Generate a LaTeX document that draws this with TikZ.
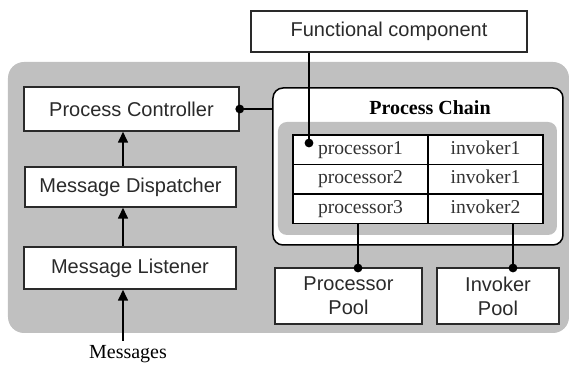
\documentclass[tikz,border=0pt]{standalone}
\usepackage{fontspec}
\setmainfont{Liberation Serif}
\setsansfont{Liberation Sans}
\usetikzlibrary{arrows.meta}
\definecolor{panelgray}{HTML}{C0C0C0}
\definecolor{inkdark}{HTML}{2A2A2A}
\begin{document}
\begin{tikzpicture}[x=0.5pt,y=-0.5pt,
  box/.style={draw=inkdark,line width=0.75pt,fill=white,inner sep=0pt,
    font=\sffamily\fontsize{10}{12}\selectfont,text=inkdark,align=center},
  cell/.style={draw=black,line width=0.7pt,fill=white,inner sep=0pt,
    minimum height=14.75pt,text height=6.6pt,text depth=2pt,
    font=\fontsize{9.8}{12}\selectfont,text=black!80},
  wire/.style={draw=black,line width=0.6pt},
  upflow/.style={draw=black,line width=0.8pt,-{Triangle[length=5.5pt,width=5pt]}},
  pin/.style={circle,fill=black,inner sep=0pt,minimum size=4.4pt}]
\useasboundingbox (0,0) rectangle (570,367);

% outer grey panel
\fill[panelgray,rounded corners=8pt] (8,62) rectangle (569,333);

% left column
\node[box,minimum width=107.5pt,minimum height=22pt] (pc) at (131.5,109) {Process Controller};
\node[box,minimum width=105.5pt,minimum height=20pt] (md) at (130.5,187) {Message Dispatcher};
\node[box,minimum width=106pt,minimum height=21pt] (ml) at (130,268) {Message Listener};

% process chain container
\node[draw=black,line width=0.75pt,fill=white,rounded corners=5pt,inner sep=0pt,
  minimum width=145pt,minimum height=78.5pt] (chain) at (418,166.5) {};
\node[font=\bfseries\fontsize{10}{12}\selectfont] (chaintitle) at (430,108) {Process Chain};
\fill[panelgray,rounded corners=4.5pt] (278,122) rectangle (557,235);

% processor / invoker table
\node[cell,minimum width=67.5pt] (p1) at (360.5,149.75) {processor1};
\node[cell,minimum width=57.5pt] (i1) at (485.5,149.75) {invoker1};
\node[cell,minimum width=67.5pt] (p2) at (360.5,179.25) {processor2};
\node[cell,minimum width=57.5pt] (i2) at (485.5,179.25) {invoker1};
\node[cell,minimum width=67.5pt] (p3) at (360.5,208.75) {processor3};
\node[cell,minimum width=57.5pt] (i3) at (485.5,208.75) {invoker2};

% pools
\node[box,minimum width=73.5pt,minimum height=28pt] (pp) at (348.5,296) {Processor\\Pool};
\node[box,minimum width=61pt,minimum height=28pt] (ip) at (498,296) {Invoker\\Pool};

% functional component
\node[box,minimum width=138pt,minimum height=20.5pt] (fc) at (389,31.5) {Functional component};

% anchor points of the connectors
\coordinate (fcpin) at (309,143);
\coordinate (pppin) at (358,268);
\coordinate (ippin) at (513,268);
\coordinate (msgsrc) at (123,341);

% connectors
\draw[wire] (pc.east) -- (pc.east -| chain.west);
\node[pin] at (pc.east) {};
\draw[wire] (fcpin |- fc.south) -- (fcpin);
\node[pin] at (fcpin) {};
\draw[wire] (pppin |- p3.south) -- (pppin);
\node[pin] at (pppin) {};
\draw[wire] (ippin |- i3.south) -- (ippin);
\node[pin] at (ippin) {};

% message flow
\draw[upflow] (msgsrc) -- (msgsrc |- ml.south);
\draw[upflow] (msgsrc |- ml.north) -- (msgsrc |- md.south);
\draw[upflow] (msgsrc |- md.north) -- (msgsrc |- pc.south);
\node[font=\fontsize{10}{12}\selectfont,anchor=base,inner sep=0pt] (msg) at (128,359) {Messages};
\end{tikzpicture}
\end{document}
